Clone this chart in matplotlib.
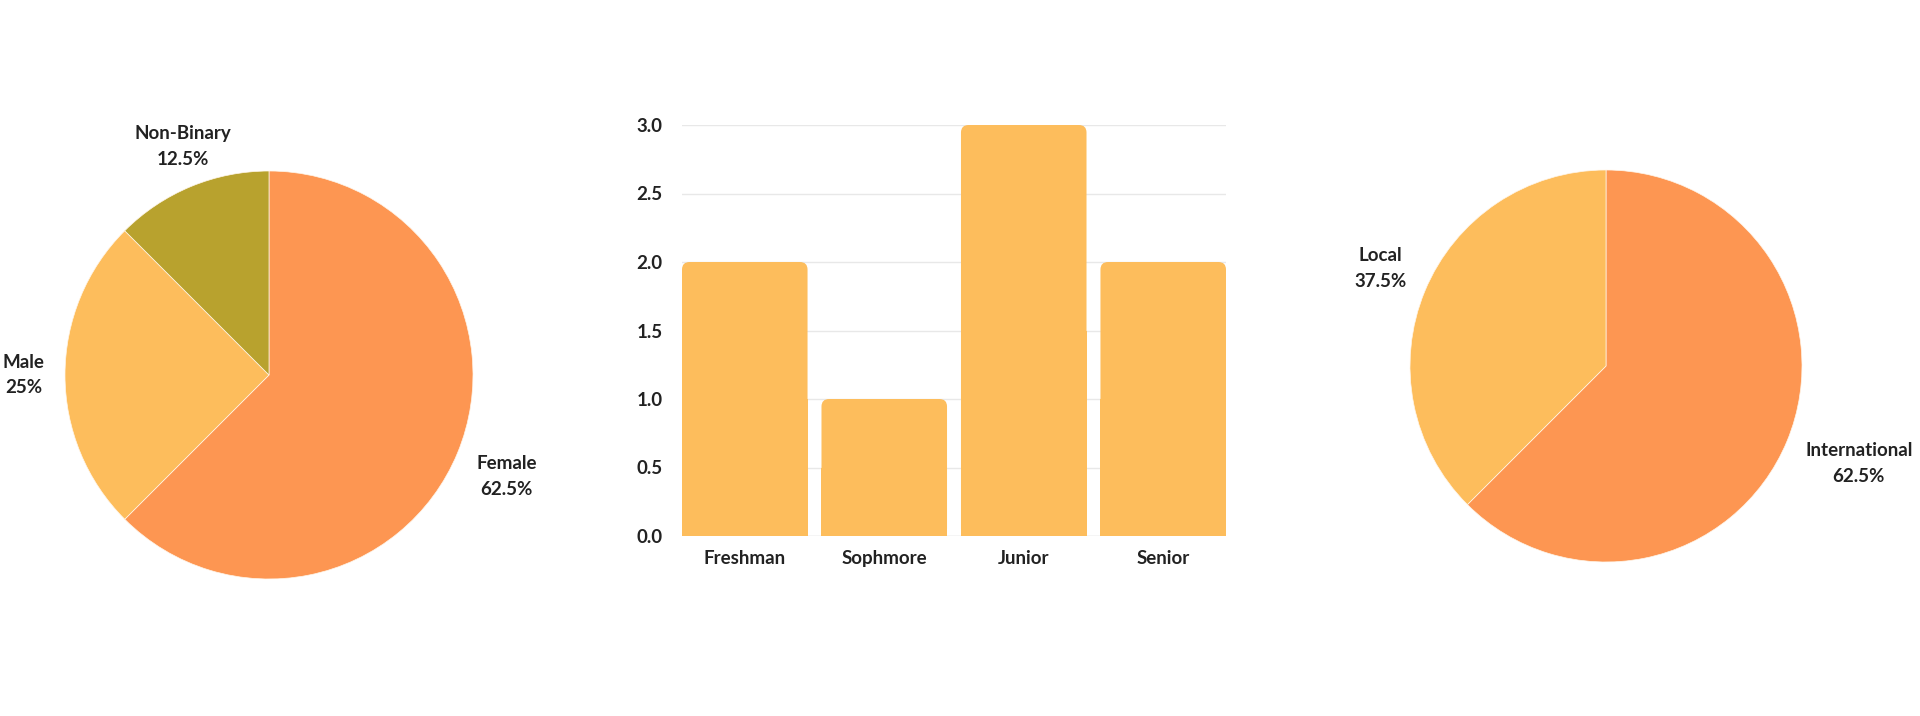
import matplotlib
matplotlib.use("Agg")
import matplotlib.pyplot as plt
from matplotlib.patches import FancyBboxPatch, Rectangle
import numpy as np

plt.rcParams['font.family'] = ['Lato', 'DejaVu Sans']

# ---- data ----
gender_labels = ["Female", "Male", "Non-Binary"]
gender_values = [62.5, 25.0, 12.5]
gender_colors = ["#FD9652", "#FDBD5C", "#B8A22E"]

year_labels = ["Freshman", "Sophmore", "Junior", "Senior"]
year_values = [2, 1, 3, 2]
bar_color = "#FDBD5C"
y_ticks = [0.0, 0.5, 1.0, 1.5, 2.0, 2.5, 3.0]

origin_labels = ["International", "Local"]
origin_values = [62.5, 37.5]
origin_colors = ["#FD9652", "#FDBD5C"]

TEXT = "#222222"
FS = 13.5
WEIGHT = "bold"

fig = plt.figure(figsize=(19.2, 7.16), dpi=100)
fig.patch.set_facecolor("white")


def draw_pie(ax, labels, values, colors):
    texts_lbl = [f"{l}\n{v:g}%" for l, v in zip(labels, values)]
    wedges, texts = ax.pie(values, colors=colors, startangle=90, counterclock=False,
                           labels=texts_lbl, labeldistance=1.1,
                           wedgeprops=dict(linewidth=0.5, edgecolor="#FFF6EA"),
                           textprops=dict(fontsize=FS, fontweight=WEIGHT, color=TEXT))
    for w, t in zip(wedges, texts):
        ang = np.deg2rad((w.theta1 + w.theta2) / 2)
        x, y = np.cos(ang), np.sin(ang)
        t.set_multialignment("center")
        t.set_linespacing(1.6)
        if abs(x) < 0.5:
            t.set_ha("center")
            t.set_va("bottom" if y > 0 else "top")
        else:
            t.set_position((1.1 * x, 1.3 * y))
            t.set_ha("left" if x > 0 else "right")
            t.set_va("center")
    ax.set_xlim(-1, 1)
    ax.set_ylim(-1, 1)
    ax.set_aspect("equal")


W, H = 1920, 716
# left pie
cx, cy, r = 269, 375, 204
ax1 = fig.add_axes([(cx - r) / W, (H - cy - r) / H, 2 * r / W, 2 * r / H])
draw_pie(ax1, gender_labels, gender_values, gender_colors)

# right pie
cx, cy, r = 1606, 366, 196
ax3 = fig.add_axes([(cx - r) / W, (H - cy - r) / H, 2 * r / W, 2 * r / H])
draw_pie(ax3, origin_labels, origin_values, origin_colors)

# bar chart
L, R, T, B = 682, 1226, 125, 536
ax2 = fig.add_axes([L / W, (H - B) / H, (R - L) / W, (B - T) / H])
x = np.arange(len(year_labels))
bw = 0.9
bars = ax2.bar(x, year_values, width=bw, color=bar_color, zorder=2)
rs = 0.055
for b in bars:
    bx, by, w, h = b.get_x(), b.get_y(), b.get_width(), b.get_height()
    b.set_visible(False)
    ax2.add_patch(FancyBboxPatch((bx, by), w, h,
                                 boxstyle=f"round,pad=0,rounding_size={rs}",
                                 mutation_aspect=1.0, facecolor=bar_color,
                                 edgecolor="none", zorder=2))
    ax2.add_patch(Rectangle((bx, by), w, h / 2, facecolor=bar_color,
                            edgecolor="none", zorder=2))
ax2.set_xlim(-bw / 2, len(year_labels) - 1 + bw / 2)
ax2.set_ylim(0, 3)
ax2.set_yticks(y_ticks)
ax2.set_yticklabels([f"{t:.1f}" for t in y_ticks])
ax2.set_xticks(x)
ax2.set_xticklabels(year_labels)
for s in ax2.spines.values():
    s.set_visible(False)
ax2.tick_params(axis="both", length=0, labelsize=FS, labelcolor=TEXT)
ax2.tick_params(axis="y", pad=14)
ax2.tick_params(axis="x", pad=20)
for lbl in ax2.get_xticklabels():
    lbl.set_fontweight(WEIGHT)
    lbl.set_va("baseline")
for lbl in ax2.get_yticklabels():
    lbl.set_fontweight(WEIGHT)
for t in y_ticks:
    ax2.axhline(t, color="#CCCCCC" if t == 0 else "#E8E8E8", linewidth=1.0, zorder=1)

fig.savefig("out.png", dpi=100, facecolor="white")
